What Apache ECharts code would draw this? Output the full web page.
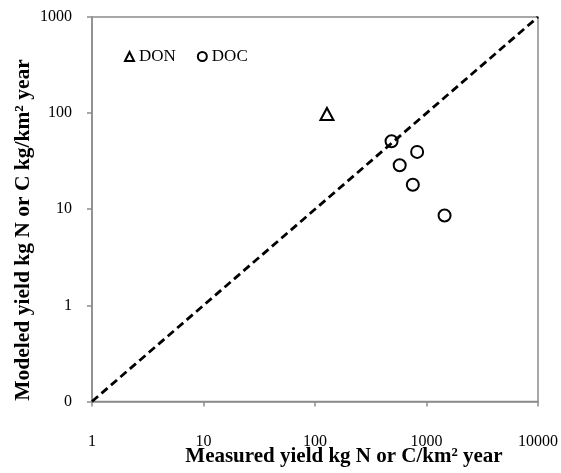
<!DOCTYPE html>
<html>
<head>
<meta charset="utf-8">
<script src="https://cdn.jsdelivr.net/npm/echarts@6/dist/echarts.min.js"></script>
<style>html,body{margin:0;padding:0;background:#fff}#c{width:561px;height:473px}</style>
</head>
<body>
<div id="c"></div>
<script>
// Data
var donPoints = [[128, 98]];
var docPoints = [[486, 51], [575, 28.7], [824, 39.5], [754, 18.0], [1452, 8.6]];
var refLine = [[1, 0.1], [10000, 1000]];
var xRange = [1, 10000];
var yRange = [0.1, 1000];
var xTitle = 'Measured yield kg N or C/km\u00b2 year';
var yTitle = 'Modeled yield kg N or C kg/km\u00b2 year';
var seriesNames = ['DON', 'DOC'];

var chart = echarts.init(document.getElementById('c'), null, {renderer: 'canvas'});
var font = 'Liberation Serif';
var axisGrey = '#8c8c8c';
function plainNum(v) { return v < 1 ? '0' : String(Math.round(v)); }
chart.setOption({
  animation: false,
  backgroundColor: '#fff',
  grid: {left: 92, right: 21, top: 17, bottom: 71.5, show: true, borderColor: axisGrey, borderWidth: 1.5, backgroundColor: 'transparent'},
  legend: {
    data: seriesNames,
    left: 124, top: 48, padding: 0,
    itemWidth: 9, itemHeight: 9, itemGap: 21,
    textStyle: {fontFamily: font, fontSize: 17, color: '#000'}
  },
  xAxis: {
    type: 'log', logBase: 10, min: xRange[0], max: xRange[1],
    axisLine: {show: true, lineStyle: {color: axisGrey, width: 1.5}},
    axisTick: {show: true, length: 5, lineStyle: {color: axisGrey, width: 1.5}},
    minorTick: {show: false},
    splitLine: {show: false},
    axisLabel: {fontFamily: font, fontSize: 16, color: '#000', margin: 32, formatter: plainNum}
  },
  yAxis: {
    type: 'log', logBase: 10, min: yRange[0], max: yRange[1],
    axisLine: {show: true, lineStyle: {color: axisGrey, width: 1.5}},
    axisTick: {show: true, length: 5, lineStyle: {color: axisGrey, width: 1.5}},
    minorTick: {show: false},
    splitLine: {show: false},
    axisLabel: {fontFamily: font, fontSize: 16, color: '#000', margin: 20, formatter: plainNum}
  },
  graphic: [
    {type: 'text', x: 344, y: 457, style: {text: xTitle, font: 'bold 21px "Liberation Serif"', fill: '#000', align: 'center', verticalAlign: 'middle'}},
    {type: 'text', x: 23, y: 230, rotation: Math.PI / 2, style: {text: yTitle, font: 'bold 21.5px "Liberation Serif"', fill: '#000', align: 'center', verticalAlign: 'middle'}}
  ],
  series: [
    {
      name: 'ref', type: 'line', data: refLine, showSymbol: false, symbol: 'none',
      lineStyle: {color: '#000', width: 2.8, type: [8, 4.5]}, z: 1, silent: true
    },
    {
      name: seriesNames[0], type: 'scatter', data: donPoints, symbol: 'triangle', symbolSize: [13, 12],
      itemStyle: {color: 'rgba(255,255,255,0)', borderColor: '#000', borderWidth: 2, opacity: 1}, z: 3
    },
    {
      name: seriesNames[1], type: 'scatter', data: docPoints, symbol: 'circle', symbolSize: 12,
      itemStyle: {color: 'rgba(255,255,255,0)', borderColor: '#000', borderWidth: 2, opacity: 1}, z: 3
    }
  ]
});
</script>
</body>
</html>
